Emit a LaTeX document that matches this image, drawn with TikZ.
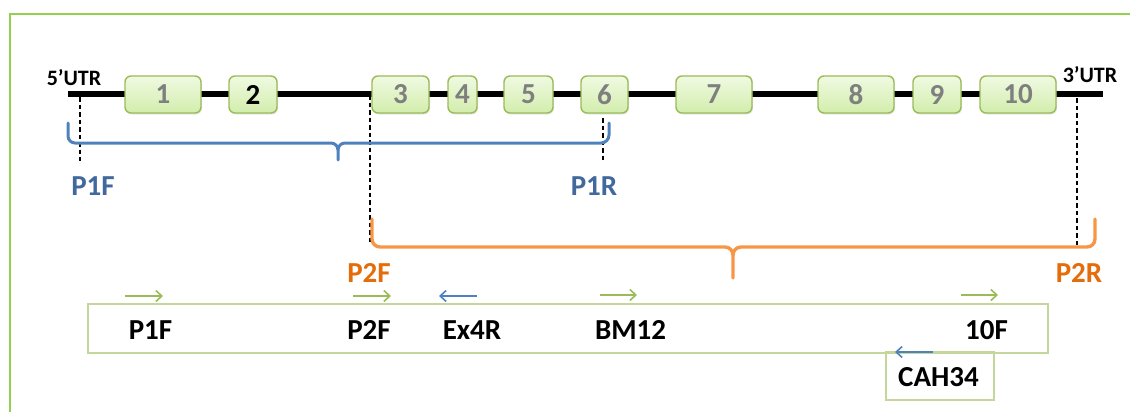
\documentclass[tikz,border=0pt]{standalone}
\usepackage{fontspec}
\setmainfont{Carlito}
\usetikzlibrary{arrows.meta,shadows}
\definecolor{framegreen}{HTML}{92D050}
\definecolor{exonborder}{HTML}{9BBB59}
\definecolor{exontop}{HTML}{F0FAE2}
\definecolor{exonbot}{HTML}{D2EDAC}
\definecolor{digitgray}{HTML}{7F7F7F}
\definecolor{braceblue}{HTML}{4F81BD}
\definecolor{textblue}{HTML}{41699C}
\definecolor{braceorange}{HTML}{F79646}
\definecolor{textorange}{HTML}{E46C0A}
\definecolor{primgreen}{HTML}{9BBB59}
\definecolor{boxgreen}{HTML}{C3D69B}
\tikzset{
  exon/.style={draw=exonborder, line width=1.4pt, rounded corners=6pt,
    top color=exontop, bottom color=exonbot, minimum height=37pt,
    inner sep=0pt, text=digitgray, font=\fontsize{29}{30}\selectfont\bfseries,
    drop shadow={opacity=0.2, shadow xshift=1pt, shadow yshift=-1.5pt}},
  utr/.style={font=\fontsize{22}{23}\selectfont\bfseries, anchor=base, inner sep=0pt},
  lbl/.style={font=\fontsize{29}{30}\selectfont\bfseries, anchor=base, inner sep=0pt},
  gene/.style={line width=6.2pt},
  guide/.style={line width=1.7pt, dash pattern=on 4.5pt off 3pt},
  bluebrace/.style={draw=braceblue, line width=3pt, line cap=round},
  orangebrace/.style={draw=braceorange, line width=3.4pt, line cap=round},
  fwd/.style={draw=primgreen, line width=1.6pt, -{Straight Barb[length=6pt,width=11pt]}},
  rev/.style={draw=braceblue, line width=1.6pt, -{Straight Barb[length=6pt,width=11pt]}},
  pbox/.style={draw=boxgreen, line width=1.6pt, inner sep=0pt, anchor=north west},
}
\begin{document}
\begin{tikzpicture}[x=1pt,y=-1pt]
\useasboundingbox (0,0) rectangle (1130,412);
% outer frame
\draw[framegreen, line width=2.6pt] (10,412) -- (10,14) -- (1130,14);

% gene line
\coordinate (g0) at (68,94);
\coordinate (g1) at (1103,94);
\draw[gene] (g0) -- (g1);
\node[utr] (utr5) at (74,85) {5’UTR};
\node[utr] (utr3) at (1090,82) {3’UTR};

% exons
\node[exon, minimum width=76pt] (e1) at (163,94.5) {1};
\node[exon, minimum width=48pt, text=black] (e2) at (253,94.5) {2};
\node[exon, minimum width=57pt] (e3) at (400.5,94.5) {3};
\node[exon, minimum width=29pt] (e4) at (462.5,94.5) {4};
\node[exon, minimum width=49pt] (e5) at (528.5,94.5) {5};
\node[exon, minimum width=47pt] (e6) at (604.5,94.5) {6};
\node[exon, minimum width=76pt] (e7) at (714,94.5) {7};
\node[exon, minimum width=76pt] (e8) at (856,94.5) {8};
\node[exon, minimum width=48pt] (e9) at (937,94.5) {9};
\node[exon, minimum width=76pt] (e10) at (1018,94.5) {10};

% dashed guide lines
\coordinate (d1a) at (80,97);   \coordinate (d1b) at (80,161);
\coordinate (d2a) at (370,95);  \coordinate (d2b) at (370,243);
\coordinate (d3a) at (603,118); \coordinate (d3b) at (603,163);
\coordinate (d4a) at (1077,98); \coordinate (d4b) at (1077,245);
\draw[guide] (d1a) -- (d1b);
\draw[guide] (d2a) -- (d2b);
\draw[guide] (d3a) -- (d3b);
\draw[guide] (d4a) -- (d4b);

% blue brace
\draw[bluebrace] (68,123) -- (68,136) to[out=-90,in=180] (75,143) -- (331,143)
  to[out=0,in=90] (338,150) -- (338,160);
\draw[bluebrace] (338,150) to[out=90,in=180] (345,143) -- (601,143)
  to[out=0,in=-90] (609,135) -- (609,123);
\node[lbl, text=textblue] (p1f) at (93,195) {P1F};
\node[lbl, text=textblue] (p1r) at (594,195) {P1R};

% orange brace
\draw[orangebrace] (372,219) -- (372,239) to[out=-90,in=180] (380,247) -- (725,247)
  to[out=0,in=90] (733,255) -- (733,278);
\draw[orangebrace] (733,255) to[out=90,in=180] (741,247) -- (1087,247)
  to[out=0,in=-90] (1095,239) -- (1095,219);
\node[lbl, text=textorange] (p2fo) at (369,282) {P2F};
\node[lbl, text=textorange] (p2r) at (1079,282) {P2R};

% primer boxes
\node[pbox, minimum width=960pt, minimum height=49pt] (box1) at (87,303) {};
\node[pbox, minimum width=108pt, minimum height=48pt] (box2) at (885,351) {};

% primer labels
\node[lbl] (lp1f) at (150.5,339) {P1F};
\node[lbl] (lp2f) at (369,339) {P2F};
\node[lbl] (lex4r) at (472,339) {Ex4R};
\node[lbl] (lbm12) at (630.5,339) {BM12};
\node[lbl] (l10f) at (986.5,339) {10F};
\node[lbl] (lcah) at (938.5,386) {CAH34};

% primer arrows
\coordinate (a1s) at (125,296); \coordinate (a1e) at (163,296);
\coordinate (a2s) at (353,296); \coordinate (a2e) at (391,296);
\coordinate (a3s) at (477,296); \coordinate (a3e) at (439,296);
\coordinate (a4s) at (600,295); \coordinate (a4e) at (637,295);
\coordinate (a5s) at (961,295); \coordinate (a5e) at (998,295);
\coordinate (a6s) at (933,352); \coordinate (a6e) at (895,352);
\draw[fwd] (a1s) -- (a1e);
\draw[fwd] (a2s) -- (a2e);
\draw[rev] (a3s) -- (a3e);
\draw[fwd] (a4s) -- (a4e);
\draw[fwd] (a5s) -- (a5e);
\draw[rev] (a6s) -- (a6e);
\end{tikzpicture}
\end{document}
